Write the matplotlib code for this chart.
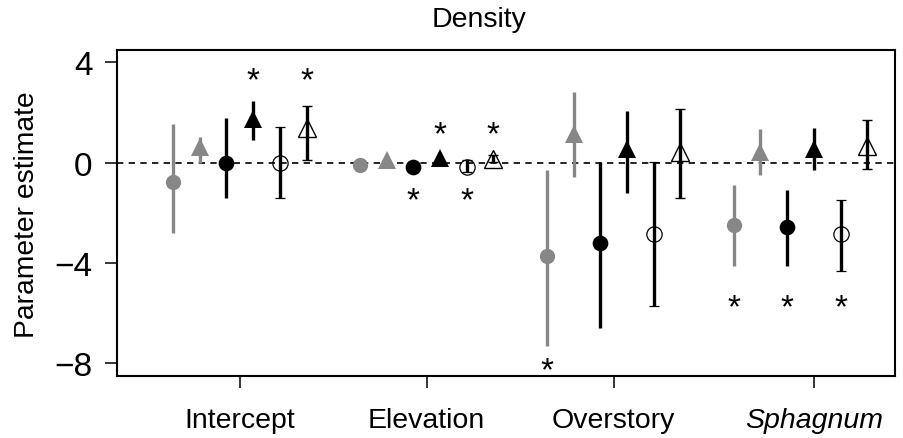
import numpy as np
import matplotlib
matplotlib.use('Agg')
import matplotlib.pyplot as plt
import matplotlib.transforms as mtransforms

plt.rcParams['font.family'] = ['Liberation Sans', 'DejaVu Sans']

# Данные: 4 параметра, по 6 моделей в каждой группе
params = ['Intercept', 'Elevation', 'Overstory', 'Sphagnum']
series = ['gray_circle', 'gray_tri', 'black_circle', 'black_tri', 'open_circle', 'open_tri']

# оценки (строки - параметры, столбцы - серии)
est = [
    [-0.76, 0.61, 0.00, 1.74, -0.02, 1.37],
    [-0.09, 0.12, -0.18, 0.17, -0.16, 0.15],
    [-3.73, 1.14, -3.21, 0.55, -2.84, 0.41],
    [-2.47, 0.44, -2.57, 0.55, -2.84, 0.65],
]
lower = [
    [-2.81, -0.02, -1.39, 0.92, -1.41, 0.11],
    [-0.12, 0.08, -0.22, 0.13, -0.36, 0.02],
    [-7.29, -0.57, -6.60, -1.20, -5.70, -1.41],
    [-4.13, -0.49, -4.13, -0.29, -4.30, -0.25],
]
upper = [
    [1.54, 1.04, 1.78, 2.45, 1.42, 2.25],
    [-0.06, 0.16, -0.14, 0.21, 0.12, 0.30],
    [-0.29, 2.80, 0.04, 2.07, 0.02, 2.15],
    [-0.88, 1.33, -1.09, 1.38, -1.47, 1.69],
]

# звёздочки значимости: (параметр, серия, y)
stars = [
    (0, 3, 3.49), (0, 5, 3.49),
    (1, 3, 1.37), (1, 5, 1.37), (1, 2, -1.29), (1, 4, -1.29),
    (2, 0, -8.05),
    (3, 0, -5.55), (3, 2, -5.55), (3, 4, -5.55),
]

tick_pos = [2.5, 9.5, 16.5, 24.0]

GRAY = '#878787'
styles = {
    'gray_circle': dict(marker='o', color=GRAY, mfc=GRAY, mec=GRAY, ms=11, mew=0),
    'gray_tri': dict(marker='^', color=GRAY, mfc=GRAY, mec=GRAY, ms=13, mew=0),
    'black_circle': dict(marker='o', color='black', mfc='black', mec='black', ms=11.3, mew=0),
    'black_tri': dict(marker='^', color='black', mfc='black', mec='black', ms=13, mew=0),
    'open_circle': dict(marker='o', color='black', mfc='none', mec='black', ms=11, mew=0.9),
    'open_tri': dict(marker='^', color='black', mfc='none', mec='black', ms=13, mew=1.0),
}

fig = plt.figure(figsize=(9.04, 4.39), dpi=100)
ax = fig.add_axes([117 / 904, 1 - 377 / 439, (895 - 117) / 904, (377 - 51) / 439])

ax.axhline(0, color='black', lw=1.2, linestyle=(0, (3.8, 3.2)), zorder=1)

for g in range(len(params)):
    for s, name in enumerate(series):
        x = g * 7 + s
        y = est[g][s]
        err = [[y - lower[g][s]], [upper[g][s] - y]]
        ax.errorbar([x], [y], yerr=err, linestyle='none', elinewidth=2.4,
                    capsize=3.6, capthick=2.4, zorder=2, **styles[name])

STAR_FS = 24
for g, s, ys in stars:
    # сдвиг, чтобы центр звёздочки приходился на ys
    tr = mtransforms.offset_copy(ax.transData, fig=fig, y=-0.44 * STAR_FS, units='points')
    ax.text(g * 7 + s, ys, '*', ha='center', va='baseline', fontsize=STAR_FS,
            transform=tr)

ax.set_xlim(-2.1, 27.04)
ax.set_ylim(-8.5, 4.49)
ax.set_yticks([4, 0, -4, -8])
ax.set_xticks(tick_pos)
ax.set_xticklabels(params, fontsize=20.5)
ax.get_xticklabels()[3].set_style('italic')
ax.tick_params(axis='y', labelsize=24, length=8.6, width=1.1, pad=9)
ax.tick_params(axis='x', length=8.6, width=1.1, pad=14)
for sp in ax.spines.values():
    sp.set_linewidth(1.5)

fig.text(34 / 904, 1 - 215 / 439, 'Parameter estimate', rotation=90,
         rotation_mode='anchor', ha='center', va='baseline', fontsize=20.3)
fig.text(479 / 904, 1 - 27 / 439, 'Density', ha='center', va='baseline', fontsize=20.5)

fig.savefig('out.png', dpi=100)
